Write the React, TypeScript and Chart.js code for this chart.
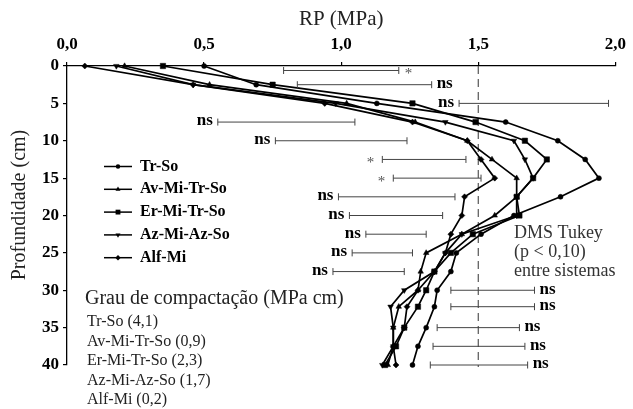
import React, { useEffect, useRef } from 'react';
import { Chart, registerables } from 'chart.js';

Chart.register(...registerables);

// ---------- data ----------
const depths = [0, 2.5, 5, 7.5, 10, 12.5, 15, 17.5, 20, 22.5, 25, 27.5, 30, 32.2, 35, 37.5, 40];
const seriesNames = ['Tr-So', 'Av-Mi-Tr-So', 'Er-Mi-Tr-So', 'Az-Mi-Az-So', 'Alf-Mi'];
const trSo = [0.50, 0.69, 1.13, 1.60, 1.79, 1.89, 1.94, 1.80, 1.63, 1.51, 1.42, 1.40, 1.35, 1.34, 1.31, 1.28, 1.26];
const avMiTrSo = [0.21, 0.52, 1.02, 1.27, 1.46, 1.55, 1.64, 1.64, 1.56, 1.44, 1.31, 1.29, 1.28, 1.21, 1.19, 1.19, 1.17];
const erMiTrSo = [0.35, 0.75, 1.26, 1.49, 1.67, 1.75, 1.70, 1.64, 1.65, 1.48, 1.40, 1.34, 1.31, 1.28, 1.23, 1.20, 1.16];
const azMiAzSo = [0.18, 0.46, 0.98, 1.38, 1.63, 1.67, 1.70, 1.64, 1.64, 1.44, 1.38, 1.34, 1.23, 1.18, 1.19, 1.19, 1.15];
const alfMi = [0.065, 0.46, 0.94, 1.26, 1.46, 1.51, 1.56, 1.45, 1.44, 1.40, 1.38, 1.34, 1.28, 1.24, 1.23, 1.19, 1.20];
const compaction = [4.1, 0.9, 2.3, 1.7, 0.2];

// DMS Tukey (p < 0,10) bars between systems
const dmsDepth = [0.6, 2.5, 5, 7.5, 10, 12.5, 15, 17.5, 20, 22.5, 25, 27.5, 30, 32.2, 35, 37.5, 40];
const dmsLow = [0.79, 0.84, 1.43, 0.55, 0.76, 1.15, 1.19, 0.99, 1.03, 1.09, 1.04, 0.97, 1.40, 1.40, 1.35, 1.335, 1.325];
const dmsHigh = [1.21, 1.33, 1.975, 1.05, 1.24, 1.455, 1.51, 1.415, 1.37, 1.31, 1.26, 1.23, 1.705, 1.705, 1.65, 1.67, 1.68];
const dmsSig = ['*', 'ns', 'ns', 'ns', 'ns', '*', '*', 'ns', 'ns', 'ns', 'ns', 'ns', 'ns', 'ns', 'ns', 'ns', 'ns'];
const dmsSide = ['right', 'right', 'left', 'left', 'left', 'left', 'left', 'left', 'left', 'left', 'left', 'left', 'right', 'right', 'right', 'right', 'right'];

const refLineValue = 1.5;
const xTicks = [0, 0.5, 1, 1.5, 2];

// ---------- styling ----------
const FONT = '"Liberation Serif", "Times New Roman", serif';
const seriesValues = [trSo, avMiTrSo, erMiTrSo, azMiAzSo, alfMi];
const seriesStyle = [
  { pointStyle: 'circle', radius: 2.5, rotation: 0 },
  { pointStyle: 'triangle', radius: 3.2, rotation: 0 },
  { pointStyle: 'rect', radius: 3.8, rotation: 0 },
  { pointStyle: 'triangle', radius: 3.2, rotation: 180 },
  { pointStyle: 'rectRot', radius: 3.0, rotation: 0 },
];

const fmt = (v: number) => v.toFixed(1).replace('.', ',');

function drawMarker(ctx: CanvasRenderingContext2D, style: string, x: number, y: number, r: number, rot: number) {
  ctx.save();
  ctx.translate(x, y);
  ctx.rotate((rot * Math.PI) / 180);
  ctx.beginPath();
  if (style === 'circle') {
    ctx.arc(0, 0, r, 0, Math.PI * 2);
  } else if (style === 'triangle') {
    const h = r * 1.5;
    ctx.moveTo(0, -r);
    ctx.lineTo(r * Math.sin(Math.PI / 3), h - r);
    ctx.lineTo(-r * Math.sin(Math.PI / 3), h - r);
    ctx.closePath();
  } else if (style === 'rect') {
    const s = Math.SQRT1_2 * r;
    ctx.rect(-s, -s, 2 * s, 2 * s);
  } else if (style === 'rectRot') {
    ctx.moveTo(0, -r);
    ctx.lineTo(r, 0);
    ctx.lineTo(0, r);
    ctx.lineTo(-r, 0);
    ctx.closePath();
  }
  ctx.fillStyle = '#000';
  ctx.fill();
  ctx.restore();
}

const overlayPlugin = {
  id: 'overlay',
  beforeDatasetsDraw(chart: any) {
    const { ctx, chartArea, scales } = chart;
    const px = scales.x.getPixelForValue(refLineValue);
    ctx.save();
    ctx.strokeStyle = '#555';
    ctx.lineWidth = 1.2;
    ctx.setLineDash([8, 5]);
    ctx.beginPath();
    ctx.moveTo(px, chartArea.top);
    ctx.lineTo(px, chartArea.bottom + 2);
    ctx.stroke();
    ctx.restore();
  },
  afterDraw(chart: any) {
    const { ctx, scales } = chart;
    const xs = scales.x;
    const ys = scales.y;
    ctx.save();
    // error bars
    for (let i = 0; i < dmsDepth.length; i++) {
      const y = ys.getPixelForValue(dmsDepth[i]);
      const x1 = xs.getPixelForValue(dmsLow[i]);
      const x2 = xs.getPixelForValue(dmsHigh[i]);
      ctx.strokeStyle = '#444';
      ctx.lineWidth = 1;
      ctx.setLineDash([]);
      ctx.beginPath();
      ctx.moveTo(x1, y);
      ctx.lineTo(x2, y);
      ctx.moveTo(x1, y - 3.5);
      ctx.lineTo(x1, y + 3.5);
      ctx.moveTo(x2, y - 3.5);
      ctx.lineTo(x2, y + 3.5);
      ctx.stroke();
      const star = dmsSig[i] === '*';
      ctx.font = star ? `15px ${FONT}` : `bold 17px ${FONT}`;
      ctx.fillStyle = star ? '#555' : '#000';
      ctx.textBaseline = 'middle';
      const ty = star ? y + 4 : y - 1;
      if (dmsSide[i] === 'left') {
        ctx.textAlign = 'right';
        ctx.fillText(dmsSig[i], x1 - (star ? 8 : 5), ty);
      } else {
        ctx.textAlign = 'left';
        ctx.fillText(dmsSig[i], x2 + (star ? 6 : 5), ty);
      }
    }

    // legend
    for (let i = 0; i < seriesNames.length; i++) {
      const ly = 166.5 + 22.8 * i;
      ctx.strokeStyle = '#000';
      ctx.lineWidth = 1.5;
      ctx.beginPath();
      ctx.moveTo(104, ly);
      ctx.lineTo(132, ly);
      ctx.stroke();
      const st = seriesStyle[i];
      drawMarker(ctx, st.pointStyle, 118, ly, st.radius * 0.9, st.rotation);
      ctx.fillStyle = '#000';
      ctx.font = `bold 16px ${FONT}`;
      ctx.textAlign = 'left';
      ctx.textBaseline = 'middle';
      ctx.fillText(seriesNames[i], 140, ly);
    }

    // compaction block
    ctx.fillStyle = '#222';
    ctx.font = `20px ${FONT}`;
    ctx.textAlign = 'left';
    ctx.textBaseline = 'middle';
    ctx.fillText('Grau de compactação (MPa cm)', 85, 299);
    ctx.font = `16px ${FONT}`;
    for (let i = 0; i < seriesNames.length; i++) {
      ctx.fillText(`${seriesNames[i]} (${fmt(compaction[i])})`, 87, 322 + 19.5 * i);
    }

    // DMS note
    ctx.fillStyle = '#333';
    ctx.font = `18px ${FONT}`;
    ctx.fillText('DMS Tukey', 514, 233);
    ctx.fillText('(p < 0,10)', 514, 252);
    ctx.fillText('entre sistemas', 514, 271);

    // y title
    ctx.save();
    ctx.translate(20, 205);
    ctx.rotate(-Math.PI / 2);
    ctx.textAlign = 'center';
    ctx.fillStyle = '#222';
    ctx.font = `20px ${FONT}`;
    ctx.fillText('Profundidade (cm)', 0, 0);
    ctx.restore();

    ctx.restore();
  },
};

export default function App() {
  const ref = useRef<HTMLCanvasElement>(null);
  useEffect(() => {
    document.body.style.margin = '0';
    const canvas = ref.current!;
    Chart.defaults.font.family = FONT;
    const chart = new Chart(canvas, {
      type: 'scatter',
      data: {
        datasets: seriesNames.map((name, i) => ({
          label: name,
          data: depths.map((d, j) => ({ x: seriesValues[i][j], y: d })),
          showLine: true,
          borderColor: '#000',
          backgroundColor: '#000',
          borderWidth: 1.7,
          pointStyle: seriesStyle[i].pointStyle as any,
          pointRotation: seriesStyle[i].rotation,
          pointRadius: seriesStyle[i].radius,
          pointBorderWidth: 0.5,
          pointBackgroundColor: '#000',
          pointBorderColor: '#000',
          tension: 0,
          clip: false as any,
        })),
      },
      options: {
        responsive: false,
        animation: false,
        devicePixelRatio: 1,
        layout: { padding: { left: 0, top: 0, right: 15, bottom: 44 } },
        plugins: { legend: { display: false }, tooltip: { enabled: false } },
        scales: {
          x: {
            type: 'linear',
            position: 'top',
            min: 0,
            max: 2,
            afterBuildTicks: (s: any) => {
              s.ticks = xTicks.map((v) => ({ value: v }));
            },
            ticks: {
              callback: (v: any) => fmt(Number(v)),
              font: { size: 17, weight: 'bold', family: FONT },
              color: '#000',
              padding: 7,
              maxRotation: 0,
            },
            grid: { drawOnChartArea: false, drawTicks: true, tickLength: 4, color: '#000', lineWidth: 1.2 },
            border: { display: true, color: '#000', width: 1.3 },
            title: {
              display: true,
              text: 'RP (MPa)',
              font: { size: 21, family: FONT },
              color: '#222',
              padding: { top: 7, bottom: 0 },
            },
            afterFit: (s: any) => {
              s.height = 66;
            },
          },
          y: {
            type: 'linear',
            reverse: true,
            min: 0,
            max: 40,
            ticks: {
              stepSize: 5,
              font: { size: 17, weight: 'bold', family: FONT },
              color: '#000',
              padding: 4,
            },
            grid: { drawOnChartArea: false, drawTicks: true, tickLength: 4, color: '#000', lineWidth: 1.2 },
            border: { display: true, color: '#000', width: 1.3 },
            afterFit: (s: any) => {
              s.width = 67;
            },
          },
        },
      } as any,
      plugins: [overlayPlugin],
    });
    return () => chart.destroy();
  }, []);
  return (
    <div style={{ width: 633, height: 409, position: 'relative' }}>
      <canvas ref={ref} width={633} height={409} style={{ display: 'block', width: 633, height: 409 }} />
    </div>
  );
}
